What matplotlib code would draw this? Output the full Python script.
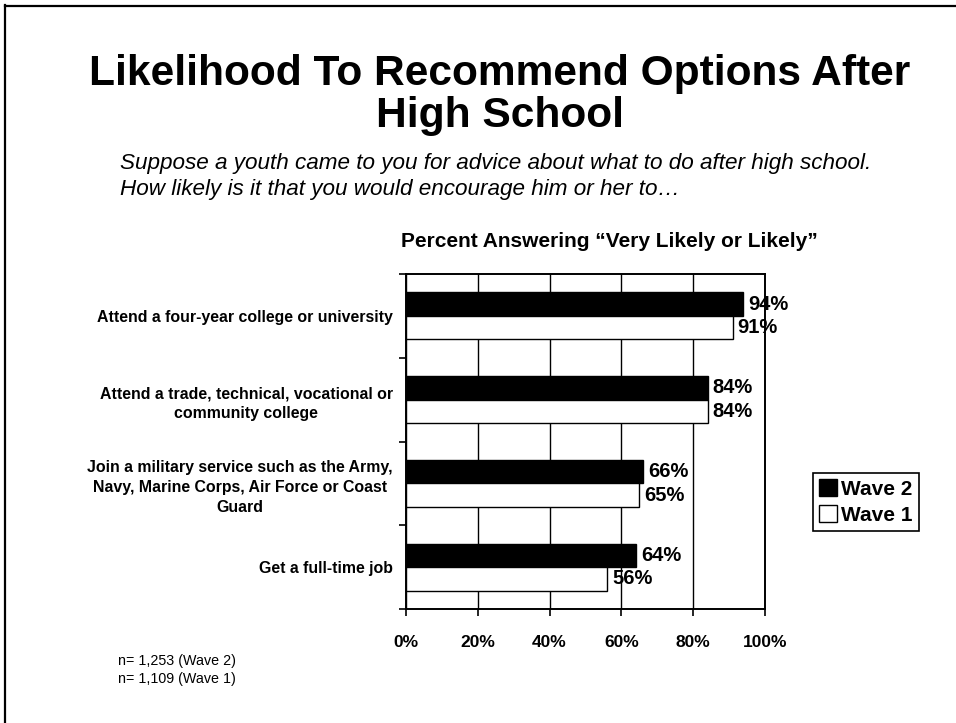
import matplotlib.pyplot as plt
import numpy as np
from matplotlib.lines import Line2D
from matplotlib.patches import Patch

plt.rcParams['font.family'] = ['Liberation Sans', 'DejaVu Sans']

options = [
    'Attend a four-year college or university',
    'Attend a trade, technical, vocational or\ncommunity college',
    'Join a military service such as the Army,\nNavy, Marine Corps, Air Force or Coast\nGuard',
    'Get a full-time job',
]
wave2 = [94, 84, 66, 64]
wave1 = [91, 84, 65, 56]
xticks = [0, 20, 40, 60, 80, 100]
sample_notes = ['n= 1,253 (Wave 2)', 'n= 1,109 (Wave 1)']


def main():
    W, H = 956, 723
    fig = plt.figure(figsize=(W / 100, H / 100), dpi=100)

    # slide border (left and top edges)
    fig.add_artist(Line2D([5 / W, 5 / W], [0, 1 - 5 / H], color='black', lw=1.6))
    fig.add_artist(Line2D([5 / W, 1], [1 - 6 / H, 1 - 6 / H], color='black', lw=1.6))

    fig.text(500 / W, 1 - 85 / H, 'Likelihood To Recommend Options After',
             ha='center', va='baseline', fontsize=30.6, fontweight='bold')
    fig.text(500 / W, 1 - 127 / H, 'High School',
             ha='center', va='baseline', fontsize=30.6, fontweight='bold')

    fig.text(120 / W, 1 - 163 / H,
             'Suppose a youth came to you for advice about what to do after high school.',
             ha='left', va='center', fontsize=16.2, fontstyle='italic')
    fig.text(120 / W, 1 - 189 / H,
             'How likely is it that you would encourage him or her to\u2026',
             ha='left', va='center', fontsize=16.2, fontstyle='italic')

    fig.text(609 / W, 1 - 242 / H, 'Percent Answering \u201cVery Likely or Likely\u201d',
             ha='center', va='center', fontsize=15, fontweight='bold')

    ax = fig.add_axes([406 / W, 1 - 609 / H, (765 - 406) / W, (609 - 274) / H])

    y = np.arange(len(options))
    h = 0.28
    ax.barh(y - h / 2, wave2, height=h, color='black', edgecolor='black', lw=1, label='Wave 2')
    ax.barh(y + h / 2, wave1, height=h, color='white', edgecolor='black', lw=1, label='Wave 1')

    for yi, v in zip(y - h / 2, wave2):
        ax.annotate(f'{v}%', (v, yi), xytext=(3.6, 0), textcoords='offset points',
                    ha='left', va='center', fontsize=14.5, fontweight='bold')
    for yi, v in zip(y + h / 2, wave1):
        ax.annotate(f'{v}%', (v, yi), xytext=(3.6, 0), textcoords='offset points',
                    ha='left', va='center', fontsize=14.5, fontweight='bold')

    ax.set_xlim(0, 100)
    ax.set_ylim(len(options) - 0.5, -0.5)
    ax.set_xticks(xticks)
    ax.set_xticklabels([f'{t}%' for t in xticks], fontsize=12.5, fontweight='bold')
    ax.tick_params(axis='x', direction='out', length=5, width=1.2, pad=14)

    ax.set_yticks(y)
    ax.set_yticklabels(options, fontsize=11.4, fontweight='bold')
    for t in ax.get_yticklabels():
        t.set_multialignment('center')
        t.set_linespacing(1.4)
    ax.set_yticks(np.arange(len(options) + 1) - 0.5, minor=True)
    ax.tick_params(axis='y', which='major', length=0, pad=9.5)
    ax.tick_params(axis='y', which='minor', direction='out', length=5, width=1.2)

    ax.grid(axis='x', color='black', lw=1)
    ax.set_axisbelow(True)
    for s in ax.spines.values():
        s.set_linewidth(1.4)

    handles = [Patch(facecolor='black', edgecolor='black', label='Wave 2'),
               Patch(facecolor='white', edgecolor='black', label='Wave 1')]
    leg = fig.legend(handles=handles, loc='upper left',
                     bbox_to_anchor=(813 / W, 1 - 473 / H), fancybox=False,
                     edgecolor='black', framealpha=1, handlelength=0.85, handleheight=0.85,
                     handletextpad=0.2, borderpad=0.3, labelspacing=0.3,
                     borderaxespad=0, prop={'size': 15, 'weight': 'bold'})
    leg.get_frame().set_linewidth(1.2)

    for i, note in enumerate(sample_notes):
        fig.text(118 / W, 1 - (661 + 18 * i) / H, note, ha='left', va='center', fontsize=10.3)

    plt.savefig('out.png', dpi=100)


if __name__ == "__main__":
    main()
